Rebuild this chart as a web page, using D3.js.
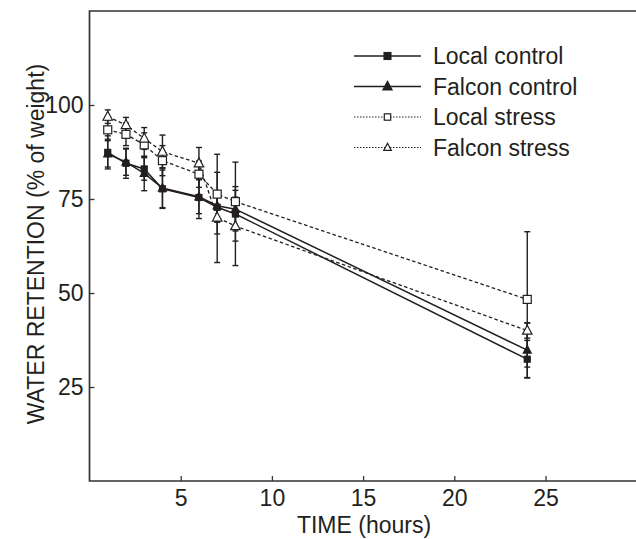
<!DOCTYPE html>
<html>
<head>
<meta charset="utf-8">
<script src="https://cdn.jsdelivr.net/npm/d3@7"></script>
<style>
  html, body { margin: 0; padding: 0; background: #fff; }
  svg { display: block; font-family: "Liberation Sans", Arial, sans-serif; }
</style>
</head>
<body>
<svg id="chart" width="636" height="539"></svg>
<script>
// ---- data ----
const hours = [1, 2, 3, 4, 6, 7, 8, 24];
const localControl      = [87.4, 84.5, 83.0, 77.7, 75.4, 72.8, 71.0, 32.4];
const falconControl     = [87.0, 84.8, 81.8, 77.9, 75.6, 73.2, 72.3, 34.8];
const localStress       = [93.4, 92.2, 89.4, 85.2, 81.6, 76.3, 74.3, 48.3];
const falconStress      = [96.9, 94.7, 91.1, 87.6, 84.5, 70.1, 67.8, 40.0];
const localControlErr   = [4.4, 4.0, 3.0, 5.0, 5.6, 4.0, 4.5, 5.0];
const falconControlErr  = [3.5, 3.5, 4.6, 5.4, 4.5, 4.0, 5.0, 7.3];
const localStressErr    = [2.5, 3.0, 3.2, 4.0, 3.5, 10.6, 10.5, 18.0];
const falconStressErr   = [1.8, 2.0, 2.9, 4.4, 4.2, 12.0, 10.5, 2.0];
const seriesNames = ["Local control", "Falcon control", "Local stress", "Falcon stress"];
const xTicks = [5, 10, 15, 20, 25];
const yTicks = [25, 50, 75, 100];
const xLabel = "TIME (hours)";
const yLabel = "WATER RETENTION (% of weight)";

(function () {
const series = [
  { name: seriesNames[0], values: localControl,  err: localControlErr,  marker: "square",   filled: true,  dashed: false },
  { name: seriesNames[1], values: falconControl, err: falconControlErr, marker: "triangle", filled: true,  dashed: false },
  { name: seriesNames[2], values: localStress,   err: localStressErr,   marker: "square",   filled: false, dashed: true },
  { name: seriesNames[3], values: falconStress,  err: falconStressErr,  marker: "triangle", filled: false, dashed: true }
];

const ink = "#231f20";
const fs = "23px";
const svg = d3.select("#chart");
const pLeft = 89.5, pRight = 636.7, pTop = 11, pBottom = 481;
const x = d3.scaleLinear().domain([0, 30]).range([pLeft, pRight]);
const y = d3.scaleLinear().domain([0, 125]).range([pBottom, pTop]);

// frame (left, top, bottom; open at right)
svg.append("path")
  .attr("d", `M${636},${pTop}H${pLeft}V${pBottom}H${636}`)
  .attr("fill", "none").attr("stroke", "#333").attr("stroke-width", 1.7);

// axes
const xAxis = svg.append("g").attr("transform", `translate(0,${pBottom})`)
  .call(d3.axisBottom(x).tickValues(xTicks).tickSizeInner(-5).tickSizeOuter(0).tickPadding(9));
const yAxis = svg.append("g").attr("transform", `translate(${pLeft},0)`)
  .call(d3.axisLeft(y).tickValues(yTicks).tickSizeInner(-5).tickSizeOuter(0).tickPadding(6));
[xAxis, yAxis].forEach(g => {
  g.select(".domain").remove();
  g.selectAll(".tick line").attr("stroke", "#333").attr("stroke-width", 1.3);
  g.selectAll(".tick text").attr("fill", ink).style("font-size", fs)
    .style("font-family", "'Liberation Sans', Arial, sans-serif");
});

// axis titles
svg.append("text").attr("x", 364).attr("y", 533)
  .attr("text-anchor", "middle").attr("fill", ink).style("font-size", fs).text(xLabel);
svg.append("text").attr("transform", `translate(44,${(pTop + pBottom) / 2 - 2}) rotate(-90)`)
  .attr("text-anchor", "middle").attr("fill", ink).style("font-size", fs).text(yLabel);

// lines
const line = d3.line().x((d, i) => x(hours[i])).y(d => y(d));
series.forEach(s => {
  svg.append("path").datum(s.values).attr("d", line)
    .attr("fill", "none").attr("stroke", ink)
    .attr("stroke-width", s.dashed ? 1.3 : 1.5)
    .attr("stroke-dasharray", s.dashed ? "3.5,2.5" : null);
});

// error bars
series.forEach(s => {
  const g = svg.append("g").attr("stroke", ink).attr("stroke-width", 1.4);
  s.values.forEach((v, i) => {
    const cx = x(hours[i]);
    const y1 = y(v + s.err[i]), y2 = y(v - s.err[i]);
    g.append("line").attr("x1", cx).attr("x2", cx).attr("y1", y1).attr("y2", y2);
    [y1, y2].forEach(yy => g.append("line").attr("x1", cx - 3).attr("x2", cx + 3).attr("y1", yy).attr("y2", yy));
  });
});

// markers
function drawMarker(g, s, cx, cy, scale) {
  if (s.marker === "square") {
    const h = (s.filled ? 6 : 8) * scale;
    g.append("rect").attr("x", cx - h / 2).attr("y", cy - h / 2).attr("width", h).attr("height", h)
      .attr("fill", s.filled ? ink : "#fff").attr("stroke", ink).attr("stroke-width", 1.2);
  } else {
    const w = (s.filled ? 8 : 9.5) * scale, h = w * 0.95;
    g.append("path")
      .attr("d", `M${cx},${cy - h * 0.6}L${cx + w / 2},${cy + h * 0.4}L${cx - w / 2},${cy + h * 0.4}Z`)
      .attr("fill", s.filled ? ink : "#fff").attr("stroke", ink).attr("stroke-width", 1.2);
  }
}
series.forEach(s => {
  const g = svg.append("g");
  s.values.forEach((v, i) => drawMarker(g, s, x(hours[i]), y(v), 1));
});

// legend
const legendY = [56, 86.5, 117, 147.5];
series.forEach((s, i) => {
  const g = svg.append("g");
  const ly = legendY[i];
  g.append("line").attr("x1", 354).attr("x2", 421).attr("y1", ly).attr("y2", ly)
    .attr("stroke", ink).attr("stroke-width", s.dashed ? 1 : 1.4)
    .attr("stroke-dasharray", s.dashed ? "1.5,1.5" : null);
  drawMarker(g, s, 387.5, ly, s.dashed ? 0.8 : 1.15);
  g.append("text").attr("x", 433).attr("y", ly + 8).attr("fill", ink)
    .style("font-size", fs).text(s.name);
});
})();
</script>
</body>
</html>
